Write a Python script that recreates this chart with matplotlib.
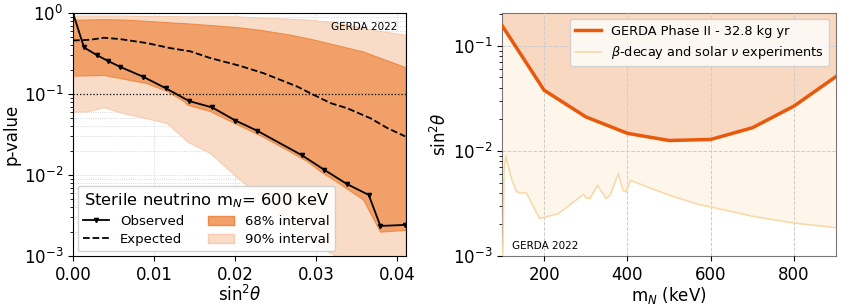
import numpy as np
import matplotlib
matplotlib.use("Agg")
import matplotlib.pyplot as plt
from matplotlib.patches import Patch
from matplotlib.lines import Line2D

# ---------------- Left panel data ----------------
obs_x = [0.0, 0.00136, 0.00292, 0.00428, 0.0058, 0.00868, 0.01144, 0.01436, 0.0172,
         0.02004, 0.02276, 0.02823, 0.03103, 0.03379, 0.0365, 0.03794, 0.041]
obs_p = [1.0, 0.376, 0.303, 0.257, 0.217, 0.163, 0.118, 0.0817, 0.0682,
         0.0471, 0.0351, 0.0176, 0.01157, 0.00776, 0.00568, 0.00235, 0.00242]

exp_x = [0.0, 0.00214, 0.0038, 0.0058, 0.0091, 0.012, 0.0145, 0.01695, 0.0206,
         0.0235, 0.02765, 0.0297, 0.0318, 0.0338, 0.0367, 0.0388, 0.041]
exp_p = [0.458, 0.468, 0.495, 0.477, 0.426, 0.369, 0.336, 0.278, 0.223,
         0.181, 0.124, 0.0977, 0.0772, 0.067, 0.0503, 0.038, 0.030]

band_x = [0.0, 0.0017, 0.0038, 0.0062, 0.0091, 0.0116, 0.01366, 0.0141, 0.01695,
          0.0202, 0.0231, 0.0268, 0.0289, 0.0305, 0.0326, 0.0358, 0.0379, 0.041]
up68 = [0.826, 0.83, 0.84, 0.83, 0.80, 0.77, 0.75, 0.745, 0.71,
        0.67, 0.62, 0.54, 0.49, 0.45, 0.40, 0.335, 0.28, 0.215]
lo68 = [0.169, 0.170, 0.172, 0.155, 0.136, 0.109, 0.082, 0.074, 0.0615,
        0.0425, 0.031, 0.0195, 0.0148, 0.0112, 0.0082, 0.0050, 0.0020, 0.0021]
up90 = [0.93, 0.93, 0.93, 0.93, 0.92, 0.92, 0.91, 0.91, 0.91,
        0.91, 0.88, 0.85, 0.83, 0.80, 0.76, 0.65, 0.60, 0.54]
lo90 = [0.0608, 0.061, 0.0689, 0.058, 0.0503, 0.0437, 0.0285, 0.0259, 0.0186,
        0.0095, 0.0054, 0.00254, 0.0018, 0.0013, 0.00098, 0.0006, 0.0004, 0.0003]

p_threshold = 0.1

# ---------------- Right panel data ----------------
gerda_m = [100, 200, 300, 400, 500, 600, 700, 800, 900]
gerda_s = [0.154, 0.0378, 0.0211, 0.0147, 0.01256, 0.01285, 0.0166, 0.0267, 0.0507]

beta_m = [100, 101, 104, 108, 114.5, 122.5, 126.5, 133, 142.5, 154.5, 158.6, 188.9,
          234.5, 294.4, 301, 310.5, 328, 349, 358.5, 378.4, 389, 397, 405, 407.6,
          450, 500, 570, 600, 700, 800, 900]
beta_s = [0.001, 0.00113, 0.0065, 0.0089, 0.00705, 0.00526, 0.00489, 0.00413, 0.00398,
          0.00402, 0.00393, 0.00227, 0.00253, 0.00385, 0.00357, 0.00352, 0.00471,
          0.00352, 0.00379, 0.0061, 0.00423, 0.00407, 0.0049, 0.00524,
          0.0045, 0.0038, 0.0031, 0.00293, 0.00239, 0.00206, 0.00186]

# ---------------- Figure ----------------
fig = plt.figure(figsize=(8.43, 3.06), dpi=100)
ax1 = fig.add_axes([0.0866, 0.1634, 0.395, 0.794])
ax2 = fig.add_axes([0.596, 0.1634, 0.3953, 0.794])

c68 = "#F0A068"
c68e = "#EE8A45"
c90 = "#F9DCC8"
c90e = "#F6CBB0"

ax1.fill_between(band_x, lo90, up90, color=c90, edgecolor=c90e, lw=0.8, zorder=1)
ax1.fill_between(band_x, lo68, up68, color=c68, edgecolor=c68e, lw=0.8, zorder=2)
ax1.plot(exp_x, exp_p, "k--", lw=1.3, zorder=4)
ax1.plot(obs_x, obs_p, "k-", marker="v", ms=3, lw=1.3, zorder=5)
ax1.axhline(p_threshold, color="k", ls=":", lw=0.9, zorder=3)
ax1.set_yscale("log")
ax1.set_xlim(0, 0.0411)
ax1.set_ylim(1e-3, 1)
ax1.set_xticks([0.0, 0.01, 0.02, 0.03, 0.04])
ax1.set_xticklabels(["0.00", "0.01", "0.02", "0.03", "0.04"])
ax1.grid(True, which="both", ls=":", color="#cccccc", lw=0.6, zorder=0)
ax1.set_axisbelow(True)
ax1.tick_params(labelsize=12)
ax1.set_xlabel(r"sin$^2\theta$", fontsize=12, labelpad=1)
ax1.set_ylabel("p-value", fontsize=12, labelpad=2)
ax1.text(0.975, 0.965, "GERDA 2022", transform=ax1.transAxes, ha="right", va="top", fontsize=7.5, zorder=6)

handles = [Line2D([], [], color="k", marker="v", ms=3, lw=1.3),
           Line2D([], [], color="k", ls="--", lw=1.3),
           Patch(facecolor=c68, edgecolor=c68e),
           Patch(facecolor=c90, edgecolor=c90e)]
labels = ["Observed", "Expected", "68% interval", "90% interval"]
leg = ax1.legend(handles, labels, ncol=2, loc="lower left", fontsize=9.5,
                 title=r"Sterile neutrino m$_N$= 600 keV", title_fontsize=11.8,
                 bbox_to_anchor=(0.0, 0.0), borderaxespad=0.35, framealpha=0.9,
                 handlelength=2.0, columnspacing=1.8, borderpad=0.4, labelspacing=0.4)
leg.set_zorder(10)

# right panel
ax2.fill_between(beta_m, beta_s, 1, color="#FEF6EB", zorder=1, lw=0)
ax2.fill_between(gerda_m, gerda_s, 1, color="#F8D8C0", zorder=2, lw=0)
ax2.plot(beta_m, beta_s, color="#F8DAA8", lw=1.2, zorder=3,
         label=r"$\beta$-decay and solar $\nu$ experiments")
ax2.plot(gerda_m, gerda_s, color="#E8590C", lw=2.5, zorder=4,
         label="GERDA Phase II - 32.8 kg yr")
ax2.set_yscale("log")
ax2.set_xlim(100, 900)
ax2.set_ylim(1e-3, 0.205)
ax2.set_xticks([200, 400, 600, 800])
ax2.grid(True, which="major", ls="--", color="#cccccc", lw=0.7, zorder=0)
ax2.set_axisbelow(False)
for g in ax2.get_xgridlines() + ax2.get_ygridlines():
    g.set_zorder(2.5)
ax2.tick_params(labelsize=12)
ax2.set_xlabel(r"m$_N$ (keV)", fontsize=12, labelpad=1)
ax2.set_ylabel(r"sin$^2\theta$", fontsize=12, labelpad=2)
ax2.text(0.03, 0.02, "GERDA 2022", transform=ax2.transAxes, ha="left", va="bottom", fontsize=7.5, zorder=6)
h, l = ax2.get_legend_handles_labels()
leg2 = ax2.legend(h[::-1], l[::-1], loc="upper right", fontsize=9.3, framealpha=0.8,
                  handlelength=2.0, borderpad=0.4)
leg2.set_zorder(10)
for sp in ax2.spines.values():
    sp.set_color("#777777")

fig.savefig("out.png", dpi=100)
